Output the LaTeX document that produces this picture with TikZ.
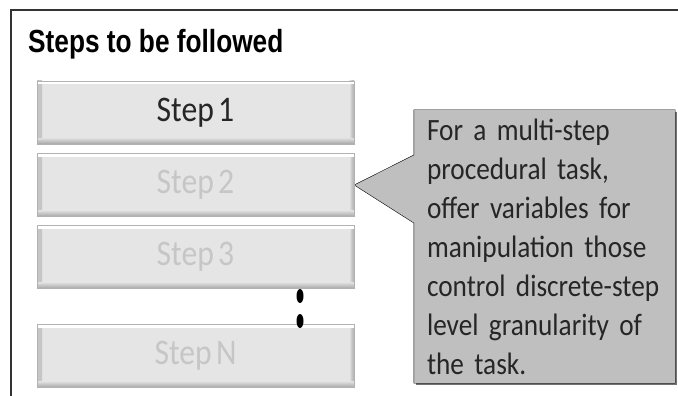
\documentclass[tikz,border=0pt]{standalone}
\usepackage{fontspec}
\setmainfont{Carlito}[FakeStretch=0.88, WordSpace=0.6]
\newfontfamily\titlefont{Liberation Sans}[FakeStretch=0.82]
\usetikzlibrary{backgrounds}

\tikzset{
    stepbtn/.style={draw=gray!60, fill=gray!20, minimum width=317pt, minimum height=63pt,
        inner sep=0pt, font=\fontsize{36}{40}\selectfont,
        path picture={
            \shade[left color=gray!45, right color=gray!20] (path picture bounding box.south west) rectangle ([xshift=5pt]path picture bounding box.north west);
            \shade[left color=gray!20, right color=gray!65] ([xshift=-5pt]path picture bounding box.south east) rectangle (path picture bounding box.north east);
            \shade[top color=gray!25, bottom color=gray!70] ([yshift=6pt]path picture bounding box.south west) rectangle (path picture bounding box.south east);
            \fill[white] ([yshift=-3pt]path picture bounding box.north west) rectangle (path picture bounding box.north east);
        }},
    callbox/.style={minimum width=261pt, minimum height=273pt, text width=235pt, inner sep=0pt,
        align=left, text=black!85, font=\fontsize{31}{39}\selectfont},
}

\begin{document}
\begin{tikzpicture}[x=1pt, y=-1pt]
        \useasboundingbox (0,0) rectangle (678,396);

        \draw[line width=1.3pt, black!80] (11,396) -- (11,10) -- (678,10);

        \node[anchor=base west, inner sep=0pt, font=\titlefont\bfseries\fontsize{32}{36}\selectfont] (title) at (28,53) {Steps to be followed};

        \foreach \n/\y/\label/\col in {1/112.5/Step 1/black!85, 2/185/Step 2/gray!45, 3/257/Step 3/gray!45, N/356/Step N/gray!45}
            \node[stepbtn, text=\col] (s\n) at (195.5,\y) {\label};

        \fill (300,296) ellipse (3.5pt and 7pt);
        \fill (300,321) ellipse (3.5pt and 7pt);

        \node[callbox] (note) at (544.5,246.5) {For a multi-step\\procedural task,\\offer  variables for\\manipulation those\\control discrete-step\\level granularity of\\the task.};

        \begin{scope}[on background layer]
            \fill[black!55] ([xshift=2pt,yshift=-2pt]note.south west) rectangle ([xshift=2pt,yshift=-2pt]note.north east);
            \draw[fill=gray!50] (note.north west) -- (note.north east) -- (note.south east) -- (note.south west)
                -- ([yshift=23.5pt]note.west) -- (s2.east) -- ([yshift=91.5pt]note.west) -- cycle;
        \end{scope}
    \end{tikzpicture}
\end{document}
